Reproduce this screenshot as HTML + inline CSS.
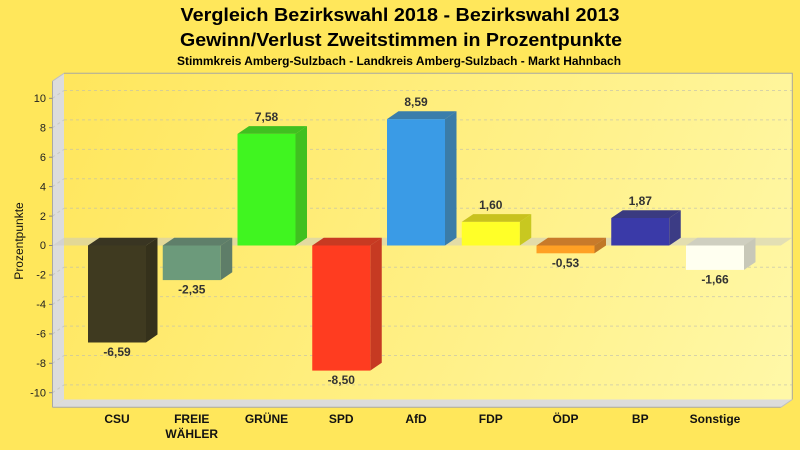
<!DOCTYPE html>
<html><head><meta charset="utf-8"><style>
html,body{margin:0;padding:0;background:#ffe75b;}
svg{display:block;}
text{font-family:"Liberation Sans",Arial,sans-serif;}
</style></head><body>
<svg width="800" height="450" viewBox="0 0 800 450" xmlns="http://www.w3.org/2000/svg">
<defs>
<linearGradient id="bw" gradientUnits="userSpaceOnUse" x1="64" y1="73" x2="792" y2="400">
<stop offset="0" stop-color="#ffe65c"/>
<stop offset="1" stop-color="#fff8a8"/>
</linearGradient>
</defs>
<rect width="800" height="450" fill="#ffe75b"/>
<!-- titles -->
<text x="400" y="21" text-anchor="middle" font-size="18.5" font-weight="bold" fill="#000" textLength="439" lengthAdjust="spacingAndGlyphs">Vergleich Bezirkswahl 2018 - Bezirkswahl 2013</text>
<text x="401" y="46" text-anchor="middle" font-size="18.5" font-weight="bold" fill="#000" textLength="442" lengthAdjust="spacingAndGlyphs">Gewinn/Verlust Zweitstimmen in Prozentpunkte</text>
<text x="399" y="65" text-anchor="middle" font-size="11.5" font-weight="bold" fill="#000" textLength="444" lengthAdjust="spacingAndGlyphs">Stimmkreis Amberg-Sulzbach - Landkreis Amberg-Sulzbach - Markt Hahnbach</text>

<!-- back wall -->
<rect x="64" y="73.3" width="728.3" height="326.2" fill="url(#bw)"/>
<polyline points="64,73.3 792.3,73.3 792.3,399.5" fill="none" stroke="#a8a8a0" stroke-width="1"/>
<!-- left wall -->
<polygon points="52.5,81.1 64,73.3 64,399.5 52.5,407.3" fill="#dcdcdc"/>
<line x1="52.5" y1="81.1" x2="52.5" y2="407.3" stroke="#a8a8a8" stroke-width="1"/>
<line x1="52.5" y1="81.1" x2="64" y2="73.3" stroke="#c0c0c0" stroke-width="1"/>
<!-- floor -->
<polygon points="52.5,407.3 64,399.5 792.3,399.5 780.8,407.3" fill="#dcdcdc"/>
<line x1="52.5" y1="407.3" x2="780.8" y2="407.3" stroke="#a8a8a8" stroke-width="1"/>
<line x1="780.8" y1="407.3" x2="792.3" y2="399.5" stroke="#c0c0c0" stroke-width="1"/>

<!-- gridlines -->
<g stroke="#bdbdb0" stroke-opacity="0.6" stroke-width="1" stroke-dasharray="3,3" fill="none">
<line x1="64" y1="90.5" x2="792" y2="90.5"/><line x1="52.5" y1="98.3" x2="64" y2="90.5"/>
<line x1="64" y1="119.9" x2="792" y2="119.9"/><line x1="52.5" y1="127.7" x2="64" y2="119.9"/>
<line x1="64" y1="149.4" x2="792" y2="149.4"/><line x1="52.5" y1="157.2" x2="64" y2="149.4"/>
<line x1="64" y1="178.8" x2="792" y2="178.8"/><line x1="52.5" y1="186.6" x2="64" y2="178.8"/>
<line x1="64" y1="208.3" x2="792" y2="208.3"/><line x1="52.5" y1="216.1" x2="64" y2="208.3"/>
<line x1="64" y1="267.2" x2="792" y2="267.2"/><line x1="52.5" y1="275.0" x2="64" y2="267.2"/>
<line x1="64" y1="296.6" x2="792" y2="296.6"/><line x1="52.5" y1="304.4" x2="64" y2="296.6"/>
<line x1="64" y1="326.1" x2="792" y2="326.1"/><line x1="52.5" y1="333.9" x2="64" y2="326.1"/>
<line x1="64" y1="355.5" x2="792" y2="355.5"/><line x1="52.5" y1="363.3" x2="64" y2="355.5"/>
<line x1="64" y1="384.9" x2="792" y2="384.9"/><line x1="52.5" y1="392.7" x2="64" y2="384.9"/>
</g>

<!-- ticks -->
<g stroke="#888" stroke-width="1">
<line x1="49" y1="98.3" x2="52.5" y2="98.3"/>
<line x1="49" y1="127.7" x2="52.5" y2="127.7"/>
<line x1="49" y1="157.2" x2="52.5" y2="157.2"/>
<line x1="49" y1="186.6" x2="52.5" y2="186.6"/>
<line x1="49" y1="216.1" x2="52.5" y2="216.1"/>
<line x1="49" y1="245.5" x2="52.5" y2="245.5"/>
<line x1="49" y1="275.0" x2="52.5" y2="275.0"/>
<line x1="49" y1="304.4" x2="52.5" y2="304.4"/>
<line x1="49" y1="333.9" x2="52.5" y2="333.9"/>
<line x1="49" y1="363.3" x2="52.5" y2="363.3"/>
<line x1="49" y1="392.7" x2="52.5" y2="392.7"/>
</g>
<g font-size="11" fill="#222" text-anchor="end">
<text x="46" y="102">10</text>
<text x="46" y="131.4">8</text>
<text x="46" y="160.9">6</text>
<text x="46" y="190.3">4</text>
<text x="46" y="219.8">2</text>
<text x="46" y="249.2">0</text>
<text x="46" y="278.7">-2</text>
<text x="46" y="308.1">-4</text>
<text x="46" y="337.6">-6</text>
<text x="46" y="367">-8</text>
<text x="46" y="396.4">-10</text>
</g>
<text transform="translate(23,241) rotate(-90)" text-anchor="middle" font-size="12" fill="#111">Prozentpunkte</text>

<!-- zero plane -->
<polygon points="52.5,245.5 780.8,245.5 792.3,237.7 64,237.7" fill="#c8c8c8" fill-opacity="0.5"/>

<!-- bars -->
<!-- CSU -6.59 -->
<polygon points="88,245.5 146,245.5 157.5,237.7 99.5,237.7" fill="#393522"/>
<polygon points="146,245.5 157.5,237.7 157.5,334.5 146,342.5" fill="#35311b"/>
<rect x="88" y="245.5" width="58" height="97" fill="#3f3a20"/>
<!-- FREIE WÄHLER -2.35 -->
<polygon points="162.75,245.5 220.75,245.5 232.25,237.7 174.25,237.7" fill="#5f7f6a"/>
<polygon points="220.75,245.5 232.25,237.7 232.25,272.3 220.75,280.1" fill="#5e7d68"/>
<rect x="162.75" y="245.5" width="58" height="34.6" fill="#6c9a7b"/>
<!-- GRÜNE 7.58 -->
<polygon points="237.5,133.9 295.5,133.9 307,126.1 249,126.1" fill="#40c020"/>
<polygon points="295.5,133.9 307,126.1 307,237.7 295.5,245.5" fill="#40c020"/>
<rect x="237.5" y="133.9" width="58" height="111.6" fill="#40f520"/>
<!-- SPD -8.50 -->
<polygon points="312.25,245.5 370.25,245.5 381.75,237.7 323.75,237.7" fill="#c83a22"/>
<polygon points="370.25,245.5 381.75,237.7 381.75,362.8 370.25,370.6" fill="#c63a22"/>
<rect x="312.25" y="245.5" width="58" height="125.1" fill="#ff3c20"/>
<!-- AfD 8.59 -->
<polygon points="387,119.1 445,119.1 456.5,111.3 398.5,111.3" fill="#3a7eab"/>
<polygon points="445,119.1 456.5,111.3 456.5,237.7 445,245.5" fill="#3a7ca8"/>
<rect x="387" y="119.1" width="58" height="126.4" fill="#3a9be6"/>
<!-- FDP 1.60 -->
<polygon points="461.75,221.9 519.75,221.9 531.25,214.1 473.25,214.1" fill="#c8c21e"/>
<polygon points="519.75,221.9 531.25,214.1 531.25,237.7 519.75,245.5" fill="#c8c820"/>
<rect x="461.75" y="221.9" width="58" height="23.6" fill="#ffff28"/>
<!-- ÖDP -0.53 -->
<polygon points="536.5,245.5 594.5,245.5 606,237.7 548,237.7" fill="#c87a2a"/>
<polygon points="594.5,245.5 606,237.7 606,245.5 594.5,253.3" fill="#c07828"/>
<rect x="536.5" y="245.5" width="58" height="7.8" fill="#ffa024"/>
<!-- BP 1.87 -->
<polygon points="611.25,218 669.25,218 680.75,210.2 622.75,210.2" fill="#3a3a80"/>
<polygon points="669.25,218 680.75,210.2 680.75,237.7 669.25,245.5" fill="#3c3c85"/>
<rect x="611.25" y="218" width="58" height="27.5" fill="#3a3aa8"/>
<!-- Sonstige -1.66 -->
<polygon points="686,245.5 744,245.5 755.5,237.7 697.5,237.7" fill="#cfcfc0"/>
<polygon points="744,245.5 755.5,237.7 755.5,262.1 744,269.9" fill="#c8c8b8"/>
<rect x="686" y="245.5" width="58" height="24.4" fill="#fffff0"/>

<!-- value labels -->
<g font-size="12" font-weight="bold" fill="#333" text-anchor="middle">
<text x="117" y="356">-6,59</text>
<text x="191.75" y="293.6">-2,35</text>
<text x="266.5" y="120.9">7,58</text>
<text x="341.25" y="384.1">-8,50</text>
<text x="416" y="106.1">8,59</text>
<text x="490.75" y="208.9">1,60</text>
<text x="565.5" y="266.8">-0,53</text>
<text x="640.25" y="205">1,87</text>
<text x="715" y="283.4">-1,66</text>
</g>

<!-- category labels -->
<g font-size="12" font-weight="bold" fill="#111" text-anchor="middle">
<text x="117" y="423">CSU</text>
<text x="191.75" y="423">FREIE</text>
<text x="191.75" y="438">WÄHLER</text>
<text x="266.5" y="423">GRÜNE</text>
<text x="341.25" y="423">SPD</text>
<text x="416" y="423">AfD</text>
<text x="490.75" y="423">FDP</text>
<text x="565.5" y="423">ÖDP</text>
<text x="640.25" y="423">BP</text>
<text x="715" y="423">Sonstige</text>
</g>
</svg>
</body></html>
